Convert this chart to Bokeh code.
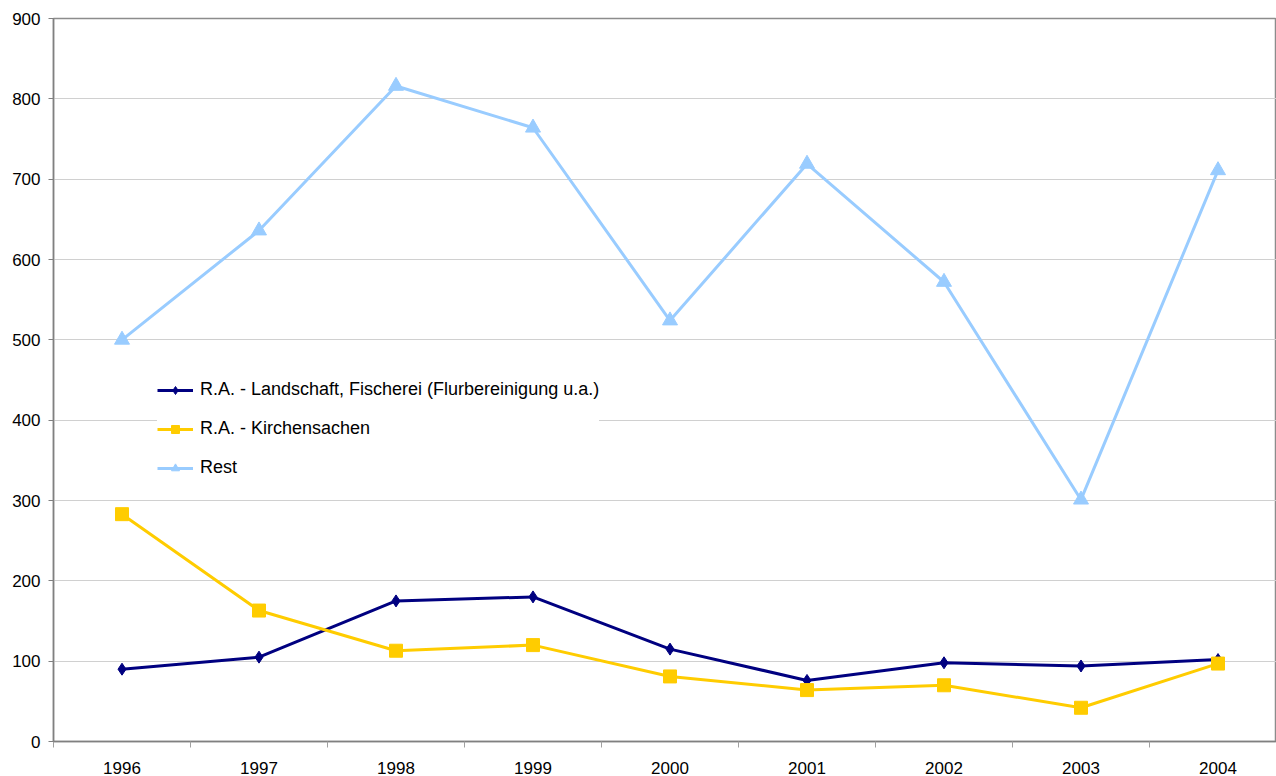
from bokeh.plotting import figure
from bokeh.models import Range1d, FixedTicker, Legend, LegendItem
from bokeh.embed import file_html
from bokeh.resources import INLINE

years = [1996, 1997, 1998, 1999, 2000, 2001, 2002, 2003, 2004]
landschaft = [90, 105, 175, 180, 115, 76, 98, 94, 102]
kirchen = [283, 163, 113, 120, 81, 64, 70, 42, 97]
rest = [500, 636, 816, 764, 524, 719, 572, 301, 711]
names = ["R.A. - Landschaft, Fischerei (Flurbereinigung u.a.)",
         "R.A. - Kirchensachen", "Rest"]
y_ticks = [0, 100, 200, 300, 400, 500, 600, 700, 800, 900]

FONT = "Liberation Sans"

p = figure(width=1276, height=776, output_backend="svg", toolbar_location=None,
           x_range=Range1d(1995.5, 2004.427), y_range=Range1d(0, 900),
           min_border_left=53, min_border_top=18, min_border_right=0,
           min_border_bottom=34, background_fill_color="white",
           border_fill_color="white")
p.outline_line_color = "#8c8c8c"
p.outline_line_width = 1.5

# axes
xa = p.xaxis[0]
xa.ticker = FixedTicker(ticks=years, minor_ticks=[y - 0.5 for y in years] + [2004.5])
xa.major_label_overrides = {y: str(y) for y in years}
xa.major_tick_line_color = None
xa.major_tick_out = 0
xa.major_tick_in = 0
xa.minor_tick_line_color = "#a0a0a0"
xa.minor_tick_out = 6
xa.minor_tick_in = 0
xa.axis_line_color = "#808080"
xa.axis_line_width = 1.5
xa.major_label_standoff = 14
xa.major_label_text_font = FONT
xa.major_label_text_font_size = "17px"
xa.major_label_text_color = "black"

ya = p.yaxis[0]
ya.ticker = FixedTicker(ticks=y_ticks)
ya.minor_tick_line_color = None
ya.major_tick_line_color = "#808080"
ya.major_tick_out = 5
ya.major_tick_in = 0
ya.axis_line_color = "#808080"
ya.axis_line_width = 1.5
ya.major_label_standoff = 8
ya.major_label_text_font = FONT
ya.major_label_text_font_size = "17px"
ya.major_label_text_color = "black"

p.xgrid.grid_line_color = None
p.ygrid.grid_line_color = "#d0d0d0"
p.ygrid.grid_line_width = 1

# series
l1 = p.line(years, landschaft, line_color="#000080", line_width=3)
m1 = p.scatter(years, landschaft, marker="diamond", size=12,
               fill_color="#000080", line_color="#000080")
l2 = p.line(years, kirchen, line_color="#FFCC00", line_width=3)
m2 = p.scatter(years, kirchen, marker="square", size=13,
               fill_color="#FFCC00", line_color="#FFCC00")
l3 = p.line(years, rest, line_color="#99CCFF", line_width=3)
m3 = p.scatter(years, rest, marker="triangle", size=15,
               fill_color="#99CCFF", line_color="#99CCFF")

legend = Legend(items=[LegendItem(label=names[0], renderers=[l1, m1]),
                       LegendItem(label=names[1], renderers=[l2, m2]),
                       LegendItem(label=names[2], renderers=[l3, m3])],
                location=(104, 263))
legend.border_line_color = None
legend.background_fill_color = "white"
legend.background_fill_alpha = 1.0
legend.label_text_font = FONT
legend.label_text_font_size = "18px"
legend.label_text_color = "black"
legend.glyph_width = 36
legend.glyph_height = 20
legend.label_height = 20
legend.spacing = 18
legend.padding = 15
legend.margin = 0
legend.label_standoff = 7
p.add_layout(legend)

open("out.html", "w").write(file_html(p, INLINE))
